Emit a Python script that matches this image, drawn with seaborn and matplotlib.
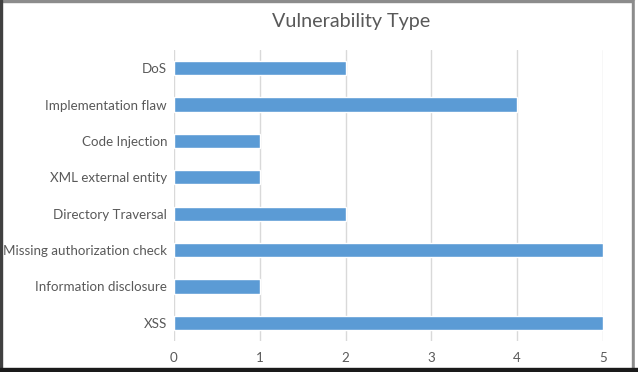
import matplotlib
matplotlib.use("Agg")
import matplotlib.pyplot as plt
from matplotlib.patches import Rectangle
import pandas as pd
import seaborn as sns

# Chart data
categories = [
    "DoS",
    "Implementation flaw",
    "Code Injection",
    "XML external entity",
    "Directory Traversal",
    "Missing authorization check",
    "Information disclosure",
    "XSS",
]
counts = [2, 4, 1, 1, 2, 5, 1, 5]
x_ticks = [0, 1, 2, 3, 4, 5]

df = pd.DataFrame({"type": categories, "count": counts})

sns.set_theme(style="white")
plt.rcParams["font.family"] = ["Lato", "DejaVu Sans"]

W, H = 638, 372
fig = plt.figure(figsize=(W / 100, H / 100), dpi=100)
ax = fig.add_axes([174 / W, 1 - 341 / H, (603 - 174) / W, (341 - 50) / H])

sns.barplot(data=df, x="count", y="type", color="#5b9bd5", width=0.39,
            saturation=1, ax=ax, zorder=3)

ax.set_xlim(0, 5)
ax.set_xticks(x_ticks)
ax.set_ylim(7.5, -0.5)
ax.grid(axis="x", color="#d9d9d9", linewidth=1, zorder=0)
for s in ax.spines.values():
    s.set_visible(False)
ax.set_xlabel("")
ax.set_ylabel("")
ax.tick_params(axis="both", length=0, labelsize=9.6, colors="#595959", pad=8)
ax.tick_params(axis="y", pad=5)

fig.text(351 / W, 1 - 22 / H, "Vulnerability Type", ha="center",
         va="center", fontsize=14.2, color="#595959")

# screenshot frame
fig.add_artist(Rectangle((0, 1 - 2 / H), 1, 2 / H, transform=fig.transFigure,
                         color="#8c8c8c", zorder=10))
fig.add_artist(Rectangle((0, 0), 2 / W, 1, transform=fig.transFigure,
                         color="#404040", zorder=10))
fig.add_artist(Rectangle((632 / W, 0), 3 / W, 1, transform=fig.transFigure,
                         color="#8c8c8c", zorder=10))
fig.add_artist(Rectangle((635 / W, 0), 3 / W, 1, transform=fig.transFigure,
                         color="#ffffff", zorder=10))
fig.add_artist(Rectangle((0, 0), 1, 4 / H, transform=fig.transFigure,
                         color="#1a1a1a", zorder=11))

fig.savefig("out.png", dpi=100)
